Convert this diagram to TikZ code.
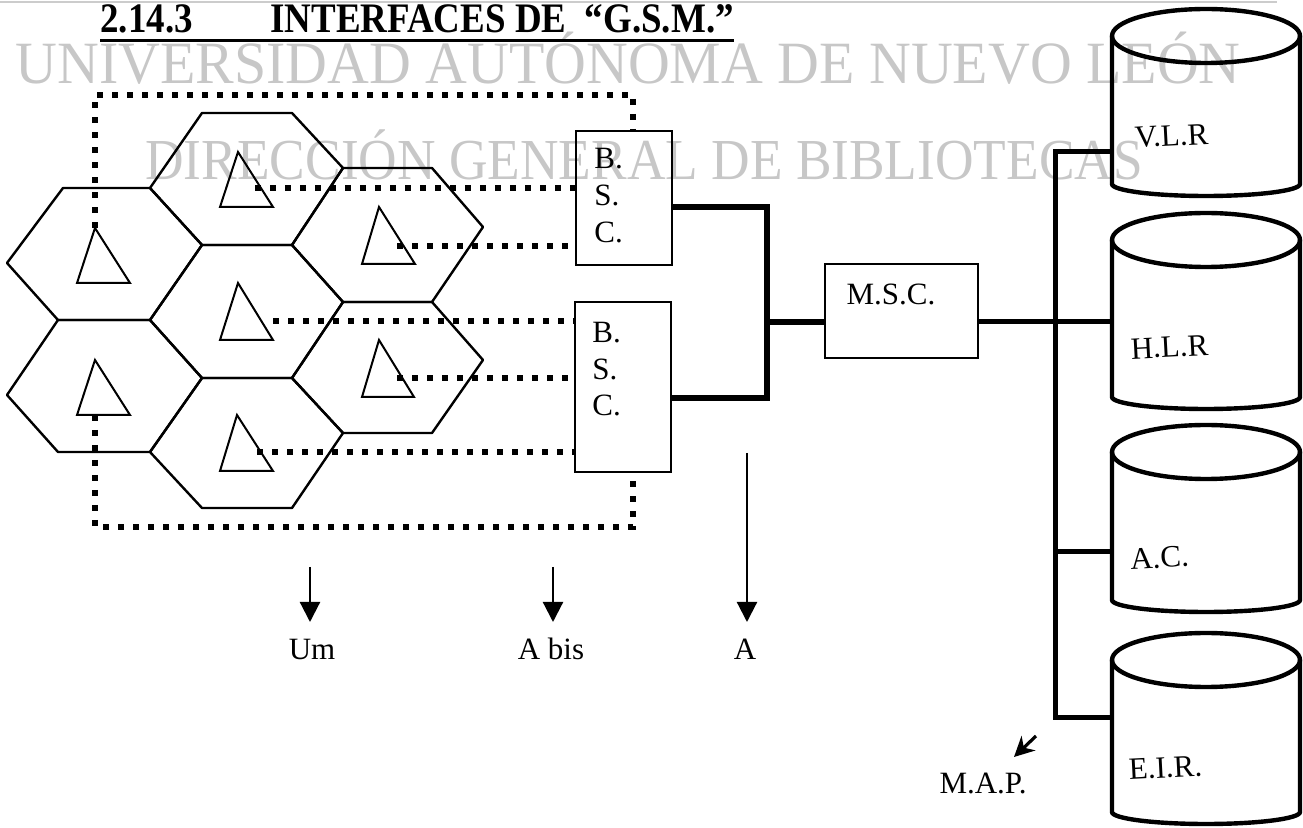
\documentclass[tikz,border=0pt]{standalone}
\usepackage{fontspec}
\setmainfont{Liberation Serif}
\usetikzlibrary{arrows.meta}
\begin{document}
\begin{tikzpicture}[x=0.5pt,y=-0.5pt,
  hexa/.style={line width=1.2pt,line join=round},
  tria/.style={line width=1pt,line join=miter},
  dotline/.style={line width=2.8pt,dash pattern=on 2.8pt off 4.7pt},
  boxn/.style={draw,line width=1pt,inner sep=0pt},
  conn/.style={line width=3pt,line join=miter},
  busl/.style={line width=2.5pt,line join=miter},
  cyl/.style={line width=2.2pt},
  ghost/.style={inner sep=0pt,minimum width=94pt},
  lbl/.style={font=\fontsize{15.5}{18}\selectfont,inner sep=0pt},
  arr/.style={line width=1.1pt,-{Triangle[length=10pt,width=10pt]}},
  ttl/.style={inner sep=0pt,anchor=base west},
  wm/.style={text=black!22,inner sep=0pt,anchor=base west}
]
\useasboundingbox (0,0) rectangle (1303,828);
% watermark
\draw[black!20,line width=1pt] (0,2) -- (1277,2);
\node[wm] (wm1) at (15,84) {\scalebox{0.965}[1]{\fontsize{30}{31}\selectfont UNIVERSIDAD AUTÓNOMA DE NUEVO LEÓN}};
\node[wm] (wm2) at (145,180) {\scalebox{0.92}[1]{\fontsize{29}{30}\selectfont DIRECCIÓN GENERAL DE BIBLIOTECAS}};
% title
\node[ttl] (tnum) at (100,33) {\scalebox{0.88}[1]{\fontsize{21}{22}\selectfont\bfseries 2.14.3}};
\node[ttl] (ttxt) at (270,33) {\scalebox{0.88}[1]{\fontsize{21}{22}\selectfont\bfseries INTERFACES DE \ “G.S.M.”}};
\draw[line width=1.5pt] (tnum.base west |- 0,41) -- (ttxt.base east |- 0,41);
% hexagon grid vertices
\coordinate (a1) at (202,113); \coordinate (a2) at (292,113);
\coordinate (b0) at (150,188); \coordinate (b1) at (63,188);
\coordinate (b3) at (343,168); \coordinate (b4) at (432,168);
\coordinate (c0) at (7,263);
\coordinate (d1) at (202,245); \coordinate (d2) at (292,245);
\coordinate (e0) at (483,227);
\coordinate (f1) at (58,320); \coordinate (f2) at (150,320);
\coordinate (g1) at (343,302); \coordinate (g2) at (432,302);
\coordinate (h1) at (202,378); \coordinate (h2) at (292,378);
\coordinate (i0) at (483,360);
\coordinate (j0) at (7,395);
\coordinate (k1) at (58,452); \coordinate (k2) at (150,452);
\coordinate (l1) at (343,433); \coordinate (l2) at (432,433);
\coordinate (m1) at (202,508); \coordinate (m2) at (292,508);
\draw[hexa] (a1) -- (a2) -- (b3) -- (d2) -- (d1) -- (b0) -- cycle;
\draw[hexa] (b3) -- (b4) -- (e0) -- (g2) -- (g1) -- (d2) -- cycle;
\draw[hexa] (b1) -- (b0) -- (d1) -- (f2) -- (f1) -- (c0) -- cycle;
\draw[hexa] (d1) -- (d2) -- (g1) -- (h2) -- (h1) -- (f2) -- cycle;
\draw[hexa] (g1) -- (g2) -- (i0) -- (l2) -- (l1) -- (h2) -- cycle;
\draw[hexa] (f1) -- (f2) -- (h1) -- (k2) -- (k1) -- (j0) -- cycle;
\draw[hexa] (h1) -- (h2) -- (l1) -- (m2) -- (m1) -- (k2) -- cycle;
% triangles (antennas)
\draw[tria] (95,228) -- (130,283) -- (77,283) -- cycle;
\draw[tria] (238,152) -- (273,207) -- (220,207) -- cycle;
\draw[tria] (379,207) -- (415,264) -- (362,264) -- cycle;
\draw[tria] (238,283) -- (273,340) -- (220,340) -- cycle;
\draw[tria] (379,340) -- (414,397) -- (362,397) -- cycle;
\draw[tria] (95,360) -- (130,415) -- (77,415) -- cycle;
\draw[tria] (237,415) -- (273,471) -- (220,471) -- cycle;
% boxes
\node[boxn,minimum width=48pt,minimum height=67pt] (bsc1) at (624,198) {};
\node[boxn,minimum width=48pt,minimum height=85pt] (bsc2) at (623,387) {};
\node[boxn,minimum width=76.5pt,minimum height=47pt] (msc) at (901.5,311) {};
\node[lbl,anchor=base west] (b1b) at (594,169) {B.};
\node[lbl,anchor=base west] (b1s) at (594,206) {S.};
\node[lbl,anchor=base west] (b1c) at (594,243) {C.};
\node[lbl,anchor=base west] (b2b) at (592,343) {B.};
\node[lbl,anchor=base west] (b2s) at (592,380) {S.};
\node[lbl,anchor=base west] (b2c) at (592,416) {C.};
\node[lbl,anchor=base] (msct) at (891,305) {M.S.C.};
% dotted links antennas -> BSC
\coordinate (t1) at (255,188); \coordinate (t2) at (397,246);
\coordinate (t3) at (273,321); \coordinate (t4) at (397,378);
\coordinate (t5) at (257,452);
\draw[dotline] (t1) -- (t1 -| bsc1.west);
\draw[dotline] (t2) -- (t2 -| bsc1.west);
\draw[dotline] (t3) -- (t3 -| bsc2.west);
\draw[dotline] (t4) -- (t4 -| bsc2.west);
\draw[dotline] (t5) -- (t5 -| bsc2.west);
\coordinate (ap0) at (95,228); \coordinate (lt) at (95,95); \coordinate (rt) at (633,95);
\coordinate (bs5) at (95,415); \coordinate (lb) at (95,527); \coordinate (rb) at (633,527);
\draw[dotline] (ap0) -- (lt) -- (rt) -- (rt |- bsc1.north);
\draw[dotline] (bs5) -- (lb) -- (rb) -- (rb |- bsc2.south);
% BSC -> MSC
\coordinate (jt) at (767,207); \coordinate (jb) at (767,398); \coordinate (jm) at (767,322);
\draw[conn] (bsc1.east |- jt) -- (jt) -- (jb) -- (bsc2.east |- jb);
\draw[conn] (jm) -- (msc.west |- jm);
% cylinders
\node[ghost,minimum height=74pt] (vlr) at (1206,110) {};
\node[ghost,minimum height=78.5pt] (hlr) at (1206,318.5) {};
\node[ghost,minimum height=74pt] (ac) at (1206,526) {};
\node[ghost,minimum height=76pt] (eir) at (1206,736) {};
\foreach \yt/\yb in {36/184, 240/397, 452/600, 660/812}{
  \draw[cyl] (1112,\yt) -- (1112,\yb) arc[start angle=180,end angle=360,x radius=47pt,y radius=6pt] -- (1300,\yt);
  \draw[cyl] (1206,\yt) ellipse[x radius=47pt,y radius=13.5pt];
}
\node[lbl,anchor=base,rotate=3] (vlrt) at (1172,146) {V.L.R};
\node[lbl,anchor=base,rotate=3] (hlrt) at (1170,357) {H.L.R};
\node[lbl,anchor=base,rotate=3] (act) at (1160,568) {A.C.};
\node[lbl,anchor=base,rotate=3] (eirt) at (1166,778) {E.I.R.};
% MSC -> databases bus
\coordinate (bt) at (1055,152); \coordinate (bb) at (1055,718); \coordinate (bm) at (1055,552);
\draw[busl] (vlr.west |- bt) -- (bt) -- (bb) -- (eir.west |- bb);
\draw[busl] (msc.east |- jm) -- (hlr.west |- jm);
\draw[busl] (bm) -- (ac.west |- bm);
% interface arrows
\coordinate (um0) at (310,567); \coordinate (um1) at (310,622);
\coordinate (ab0) at (553,567); \coordinate (ab1) at (553,622);
\coordinate (aa0) at (747,453); \coordinate (aa1) at (747,622);
\draw[arr] (um0) -- (um1);
\draw[arr] (ab0) -- (ab1);
\draw[arr] (aa0) -- (aa1);
\node[lbl,anchor=base] (umt) at (312,660) {Um};
\node[lbl,anchor=base] (abt) at (551,660) {A bis};
\node[lbl,anchor=base] (aat) at (745,660) {A};
\coordinate (mp0) at (1036,736); \coordinate (mp1) at (1014,757);
\draw[line width=1.6pt,-{Stealth[length=10pt,width=10pt]}] (mp0) -- (mp1);
\node[lbl,anchor=base] (mapt) at (983,794) {M.A.P.};
\end{tikzpicture}
\end{document}
